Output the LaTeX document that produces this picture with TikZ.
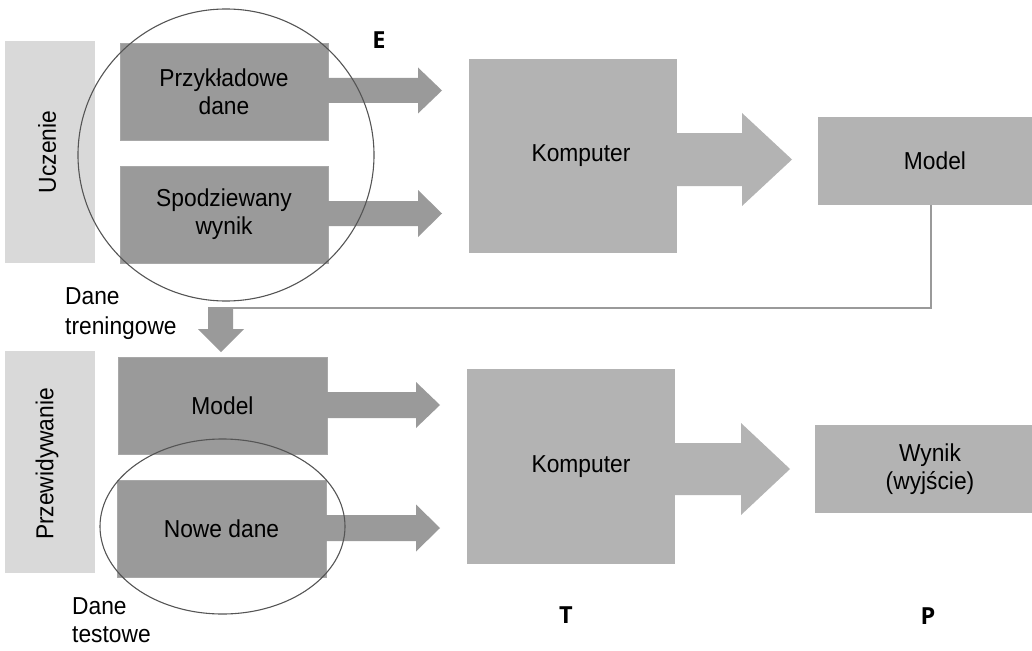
\documentclass[tikz,border=0pt]{standalone}
\usepackage{fontspec}
\setmainfont{Liberation Sans}[FakeStretch=0.93]
\newfontfamily\lblfont{Open Sans}
\usetikzlibrary{calc,shapes.geometric}
\definecolor{barfill}{HTML}{D9D9D9}
\definecolor{darkfill}{HTML}{9A9A9A}
\definecolor{lightfill}{HTML}{B3B3B3}
\definecolor{ringcol}{HTML}{555555}
\definecolor{edgecol}{HTML}{A8A8A8}
\newcommand\harrow[7]{%
  \fill[#7] (#1,#4-#5) -- (#2,#4-#5) -- (#2,#4-#6) -- (#3,#4) -- (#2,#4+#6) -- (#2,#4+#5) -- (#1,#4+#5) -- cycle;}
\begin{document}
\begin{tikzpicture}[x=1pt,y=-1pt,
  every node/.style={font=\fontsize{24.5}{28}\selectfont, text=black, inner sep=0pt},
  sidebar/.style={fill=barfill, draw=none},
  darkbox/.style={fill=darkfill, draw=edgecol, line width=0.8pt, align=center},
  lightbox/.style={fill=lightfill, draw=none, align=center},
  darrow/.style={fill=darkfill},
  larrow/.style={fill=lightfill},
  ring/.style={draw=ringcol, line width=1.1pt, ellipse, fill=none},
  fbline/.style={draw=darkfill, line width=1.6pt},
  letter/.style={font=\lblfont\bfseries\fontsize{23.5}{27}\selectfont},
  note/.style={align=left, anchor=north west}
]
\useasboundingbox (0,0) rectangle (1032,650);

% side bars
\node[sidebar, minimum width=90, minimum height=222] (u) at (50,152) {};
\node[rotate=90] (ut) at (47,152) {Uczenie};
\node[sidebar, minimum width=90, minimum height=222] (p) at (50,462) {};
\node[rotate=90] (pt) at (47,464) {Przewidywanie};

% dark input boxes
\node[darkbox, minimum width=208, minimum height=97] (b1) at (224,91.5) {Przykładowe\\dane};
\node[darkbox, minimum width=208, minimum height=97] (b2) at (224,214.5) {Spodziewany\\wynik};
\node[darkbox, minimum width=209, minimum height=97] (b3) at (222.5,405.5) {Model};
\node[darkbox, minimum width=209, minimum height=97] (b4) at (221.5,528.5) {Nowe dane};

% computers
\node[lightbox, minimum width=208, minimum height=194] (k1) at (573,156) {};
\node (k1t) at (581,156) {Komputer};
\node[lightbox, minimum width=208, minimum height=195] (k2) at (571,466.5) {};
\node (k2t) at (581,467) {Komputer};

% outputs
\node[lightbox, minimum width=234, minimum height=88] (m2) at (935,161) {Model};
\node[lightbox, minimum width=230, minimum height=88] (w) at (930,469) {Wynik\\(wyjście)};

% block arrows
\harrow{328}{418}{442}{90.5}{12.5}{23}{darrow}
\harrow{328}{418}{442}{213.5}{12.5}{23.5}{darrow}
\harrow{327}{416}{440}{405}{13}{23}{darrow}
\harrow{326}{416}{440}{528}{13}{23.5}{darrow}
\harrow{676}{742}{792}{159.5}{26.5}{46.5}{larrow}
\harrow{674}{741}{790}{469}{26}{46}{larrow}

% down arrow
\fill[darrow] (208,307) -- (233,307) -- (233,329) -- (244,329) -- (221,352) -- (198,329) -- (208,329) -- cycle;

% feedback line
\coordinate (fb) at (233,308);
\draw[fbline] ([xshift=-4pt]m2.south) |- (fb);

% rings
\node[ring, minimum width=296, minimum height=292] (c1) at (226,155) {};
\node[ring, minimum width=245, minimum height=175] (c2) at (222.5,526.5) {};

% labels
\node[letter] (E) at (379,40) {E};
\node[letter] (T) at (566,615) {T};
\node[letter] (P) at (928,616) {P};
\node[note] (dtr) at (65,287) {Dane\\[2pt]treningowe};
\node[note] (dte) at (72,597) {Dane\\testowe};
\end{tikzpicture}
\end{document}
